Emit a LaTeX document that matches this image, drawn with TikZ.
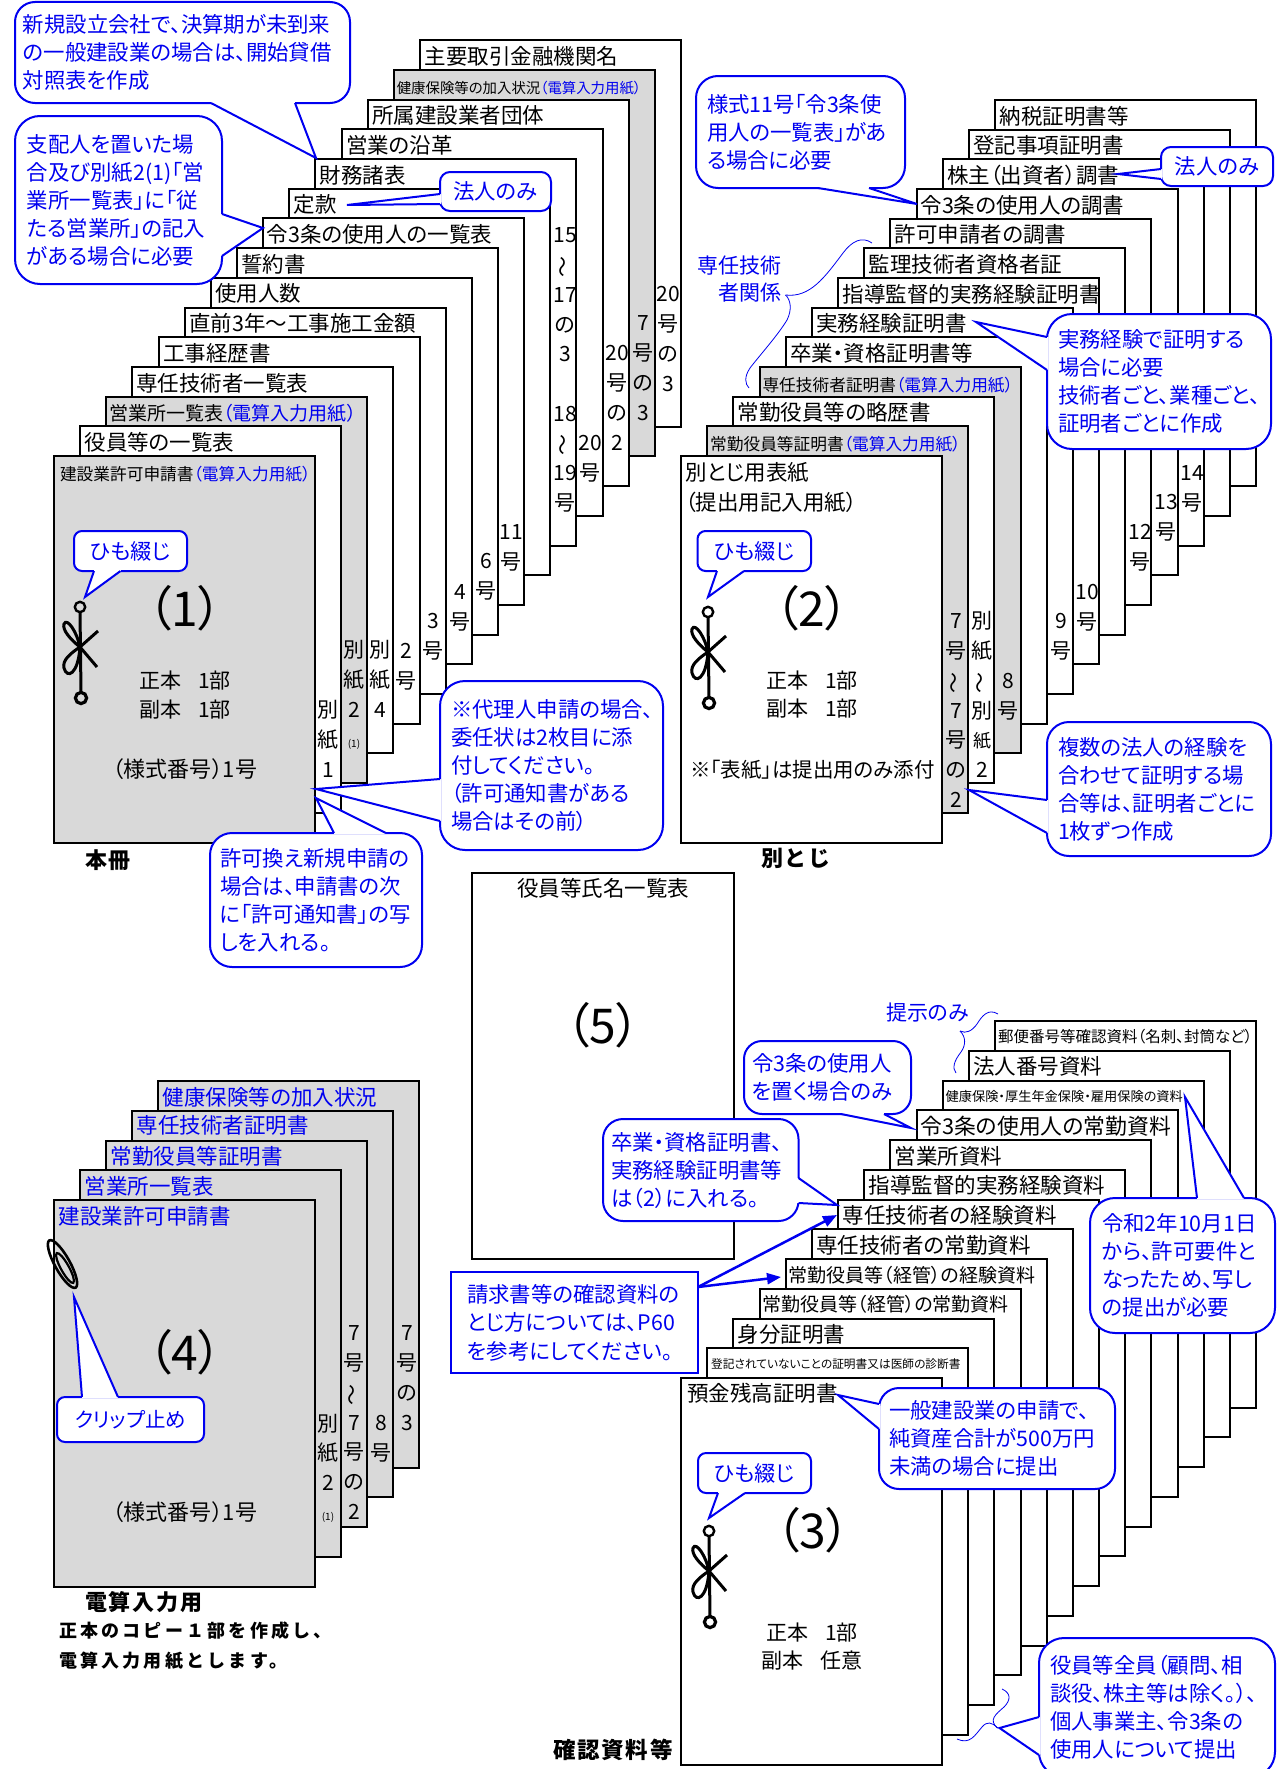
\documentclass[tikz,border=0pt]{standalone}
\usepackage{fontspec}
\setmainfont[RawFeature=+palt]{Noto Sans CJK JP}
\newfontfamily\capfont[LetterSpace=18]{Noto Sans CJK JP}
\newfontfamily\capfontb[LetterSpace=8]{Noto Sans CJK JP}
\usetikzlibrary{arrows.meta}
\definecolor{pagegray}{HTML}{D9D9D9}
\definecolor{cb}{HTML}{0000F0}
\newcommand\st{\rule[-.12em]{0pt}{1em}}
\newcommand\fs[1]{\fontsize{#1}{#1}\selectfont\st}
\newcommand\rw{\rotatebox[origin=c]{90}{～}}
\newcommand\dn[1]{{\color{cb}#1}}
\tikzset{
  pagebox/.style={draw=black,line width=2pt,minimum width=261pt,minimum height=386.5pt,inner sep=0pt,outer sep=0pt,anchor=north west},
  lab/.style={inner sep=0pt,outer sep=0pt,text=black},
  bl/.style={inner sep=0pt,outer sep=0pt,text=cb},
  sidelab/.style={inner sep=0pt,outer sep=0pt,align=center,anchor=north,font=\fontsize{21}{29.7}\selectfont},
  callbox/.style={draw=cb,fill=white,line width=2pt,outer sep=0pt,inner ysep=0pt,align=left,text=cb,font=\fontsize{21.4}{28}\selectfont},
  tailline/.style={draw=cb,line width=2pt,line join=miter},
  brace/.style={draw=cb,line width=.8pt},
  knotline/.style={draw=black,line width=3pt},
  arrowline/.style={draw=cb,line width=2.5pt,-{Triangle[length=14pt,width=11pt]}},
}
% page of a stack: index, fill, size, x offset, y offset, text
\newcommand\pg[6]{%
  \pgfmathsetmacro\px{\ox+#1*\dxx}\pgfmathsetmacro\py{\oy-#1*\dyy}%
  \node[pagebox,fill=#2] (\sn p#1) at (\px,\py) {};%
  \node[lab,anchor=west] (\sn t#1) at (\px+#4,\py+#5) {\fs{#3}#6};%
}
\newcommand\side[4]{\node[sidelab] (#1) at (#2,#3-10.5) {\st #4};}
% callout: radius, name, x1,y1,x2,y2, inset, text
\newcommand\callout[8]{%
  \pgfmathsetmacro\cw{#5-#3}\pgfmathsetmacro\ch{#6-#4}%
  \pgfmathsetmacro\tw{#5-#3-2*#7}%
  \node[callbox,rounded corners=#1pt,minimum width=\cw pt,minimum height=\ch pt,inner xsep=#7pt,text width=\tw pt]
    (#2) at ({(#3+#5)/2},{(#4+#6)/2}) {\st #8\st};%
}
% tail: first base, tip, second base
\newcommand\tail[4]{%
  \coordinate (#1) at (#3);%
  \draw[white,line width=2.6pt] (#2)--(#4);%
  \fill[white] (#2)--(#1)--(#4)--cycle;%
  \draw[tailline] (#2)--(#1)--(#4);%
}
\newcommand\knot[2]{%
  \begin{scope}[shift={(#1,#2)}]
    \draw[knotline,line width=2.4pt] (0,-40) circle (5.2);
    \draw[knotline,line width=3.2pt] (1,51) circle (5.6);
    \draw[knotline] (0,-35)--(1,45);
    \draw[knotline] (0,0)--(18,-16);
    \draw[knotline] (0,0)--(17,20);
    \draw[knotline] (0,0) .. controls (-9,-7) and (-18,-17) .. (-16,-23) .. controls (-13,-30) and (-3,-15) .. (0,0);
    \draw[knotline] (0,0) .. controls (-9,6) and (-18,13) .. (-16,21) .. controls (-13,32) and (-2,28) .. (0,0);
  \end{scope}%
}
\begin{document}
\begin{tikzpicture}[x=1pt,y=-1pt]
\useasboundingbox (0,0) rectangle (1279,1769);
\fill[white] (0,0) rectangle (1279,1769);

%%% stack 1
\def\sn{a}\def\ox{54}\def\oy{456}\def\dxx{26.14}\def\dyy{29.7}
\pg{14}{white}{21.5}{5}{16}{主要取引金融機関名}
\pg{13}{pagegray}{14.4}{3}{18}{健康保険等の加入状況\dn{（電算入力用紙）}}
\pg{12}{white}{21.5}{4.5}{16}{所属建設業者団体}
\pg{11}{white}{21.5}{4.5}{16}{営業の沿革}
\pg{10}{white}{21.5}{4.5}{16}{財務諸表}
\pg{9}{white}{21.5}{4.5}{16}{定款}
\pg{8}{white}{21.5}{3.5}{16}{令3条の使用人の一覧表}
\pg{7}{white}{21.5}{4.5}{16}{誓約書}
\pg{6}{white}{21.5}{4.5}{16}{使用人数}
\pg{5}{white}{21.5}{4.5}{16}{直前3年～工事施工金額}
\pg{4}{white}{21.5}{4.5}{16}{工事経歴書}
\pg{3}{white}{21.5}{4}{16}{専任技術者一覧表}
\pg{2}{pagegray}{19}{3}{17}{営業所一覧表\dn{（電算入力用紙）}}
\pg{1}{white}{21.5}{4.5}{16}{役員等の一覧表}
\pg{0}{pagegray}{16.7}{6}{18}{建設業許可申請書\dn{（電算入力用紙）}}
\side{as1}{328}{710}{別\\紙\\1}
\side{as2}{354}{650}{別\\紙\\2\\{\fontsize{10}{10}\selectfont(1)}}
\side{as3}{380}{650}{別\\紙\\4}
\side{as4}{406}{651}{2\\号}
\side{as5}{433}{621}{3\\号}
\side{as6}{460}{592}{4\\号}
\side{as7}{486}{561}{6\\号}
\side{as8}{511}{532}{11\\号}
\side{as9}{565}{235}{15\\\rw\\17\\の\\3\\\st\\18\\\rw\\19\\号}
\side{as10}{590}{443}{20\\号}
\side{as11}{617}{353}{20\\号\\の\\2}
\side{as12}{643}{323}{7\\号\\の\\3}
\side{as13}{668}{294}{20\\号\\の\\3}
\node[lab] (anum) at (185,608) {\fs{48}（1）};
\node[lab] (acopy1) at (185,681) {\fs{21}正本\hspace{17pt}1部};
\node[lab] (acopy2) at (185,710) {\fs{21}副本\hspace{17pt}1部};
\node[lab] (aform) at (185,769) {\fs{22}（様式番号）1号};
\knot{80}{647}
\node[lab,anchor=west] (acap) at (85,860) {\fontsize{22}{22}\capfontb\bfseries\st 本冊};

%%% stack 2
\def\sn{b}\def\ox{681}\def\oy{456}\def\dxx{26.17}\def\dyy{29.67}
\pg{12}{white}{21.5}{4.5}{16}{納税証明書等}
\pg{11}{white}{21.5}{4.5}{16}{登記事項証明書}
\pg{10}{white}{21.5}{4.5}{16}{株主（出資者）調書}
\pg{9}{white}{21.5}{4}{16}{令3条の使用人の調書}
\pg{8}{white}{21.5}{4.5}{16}{許可申請者の調書}
\pg{7}{white}{21.5}{4.5}{16}{監理技術者資格者証}
\pg{6}{white}{21.5}{4.5}{16}{指導監督的実務経験証明書}
\pg{5}{white}{21.5}{4.5}{16}{実務経験証明書}
\pg{4}{white}{21.5}{4.5}{16}{卒業・資格証明書等}
\pg{3}{pagegray}{16.7}{3}{18}{専任技術者証明書\dn{（電算入力用紙）}}
\pg{2}{white}{21.5}{4.5}{16}{常勤役員等の略歴書}
\pg{1}{pagegray}{16.7}{3}{18}{常勤役員等証明書\dn{（電算入力用紙）}}
\pg{0}{white}{21.5}{4.5}{16}{別とじ用表紙}
\node[lab,anchor=west] (bsub) at (685,502) {\fs{21.5}（提出用記入用紙）};
\side{bs1}{956}{621}{7\\号\\\rw\\7\\号\\の\\2}
\side{bs2}{982}{621}{別\\紙\\\rw\\別\\{\fontsize{18}{18}\selectfont 紙}\\2}
\side{bs3}{1008}{681}{8\\号}
\side{bs4}{1061}{621}{9\\号}
\side{bs5}{1087}{592}{10\\号}
\side{bs6}{1140}{532}{12\\号}
\side{bs7}{1166}{502}{13\\号}
\side{bs8}{1192}{473}{14\\号}
\node[lab] (bnum) at (812,608) {\fs{48}（2）};
\node[lab] (bcopy1) at (812,681) {\fs{21}正本\hspace{17pt}1部};
\node[lab] (bcopy2) at (812,709) {\fs{21}副本\hspace{17pt}1部};
\node[lab,anchor=west] (bnote) at (690,770) {\fs{20.5}※「表紙」は提出用のみ添付};
\knot{708}{652}
\node[lab,anchor=west] (bcap) at (761,858) {\fontsize{22}{22}\capfontb\bfseries\st 別とじ};
\node[bl,anchor=east,align=right,font=\fontsize{21}{27}\selectfont] (btag) at (781,279) {\st 専任技術\\者関係\st};
\draw[brace] (872,243) .. controls (862,236) and (852,241) .. (843,253) .. controls (825,277) and (810,298) .. (785.5,295);
\draw[brace] (785.5,295) .. controls (791,300) and (792,310) .. (787,320) .. controls (778,335) and (760,355) .. (750,368) .. controls (744,377) and (745,384) .. (749,388);

%%% stack 5
\node[pagebox,minimum width=262pt,minimum height=386pt] (epage) at (472,873) {};
\node[lab] (etitle) at (603,888) {\fs{21.5}役員等氏名一覧表};
\node[lab] (enum) at (603,1025) {\fs{48}（5）};

%%% stack 3
\def\sn{c}\def\ox{681}\def\oy{1378}\def\dxx{26.17}\def\dyy{29.75}
\pg{12}{white}{15.5}{3}{16}{郵便番号等確認資料（名刺、封筒など）}
\pg{11}{white}{21.5}{4.5}{16}{法人番号資料}
\pg{10}{white}{13.2}{3}{16}{健康保険・厚生年金保険・雇用保険の資料}
\pg{9}{white}{21.8}{4}{16}{令3条の使用人の常勤資料}
\pg{8}{white}{21.5}{4.5}{16}{営業所資料}
\pg{7}{white}{21.5}{4.5}{16}{指導監督的実務経験資料}
\pg{6}{white}{21.5}{4.5}{16}{専任技術者の経験資料}
\pg{5}{white}{21.5}{4.5}{16}{専任技術者の常勤資料}
\pg{4}{white}{19}{3}{16}{常勤役員等（経管）の経験資料}
\pg{3}{white}{19}{3}{16}{常勤役員等（経管）の常勤資料}
\pg{2}{white}{21.5}{4.5}{16}{身分証明書}
\pg{1}{white}{11.7}{4}{16}{登記されていないことの証明書又は医師の診断書}
\pg{0}{white}{21.5}{6}{15}{預金残高証明書}
\node[lab] (cnum) at (813,1530) {\fs{48}（3）};
\node[lab] (ccopy1) at (812,1632) {\fs{21}正本\hspace{17pt}1部};
\node[lab] (ccopy2) at (812,1660) {\fs{21}副本\hspace{17pt}任意};
\knot{709}{1571}
\node[lab,anchor=west] (ccap) at (553,1750) {\fontsize{22.5}{22.5}\capfontb\bfseries\st 確認資料等};
\node[bl,anchor=west] (ctag) at (886,1013) {\fs{21}提示のみ};
\draw[brace] (998,1014) .. controls (988,1008) and (982,1016) .. (977,1024) .. controls (972,1031) and (966,1034) .. (960,1031);
\draw[brace] (960,1031) .. controls (966,1037) and (966,1045) .. (961,1052) .. controls (954,1061) and (952,1068) .. (956,1073);
\draw[brace] (1002,1689) .. controls (1011,1693) and (1011,1700) .. (1004,1707) .. controls (996,1714) and (988,1720) .. (997.5,1728);
\draw[brace] (997.5,1728) .. controls (992,1722) and (987,1721) .. (982,1727) .. controls (975,1735) and (970,1745) .. (957,1739);

%%% stack 4
\def\sn{d}\def\ox{54}\def\oy{1200}\def\dxx{26.1}\def\dyy{29.75}
\pg{4}{pagegray}{21.5}{4.5}{16}{\color{cb}健康保険等の加入状況}
\pg{3}{pagegray}{21.5}{4.5}{15}{\color{cb}専任技術者証明書}
\pg{2}{pagegray}{21.5}{4.5}{16}{\color{cb}常勤役員等証明書}
\pg{1}{pagegray}{21.5}{4.5}{16}{\color{cb}営業所一覧表}
\pg{0}{pagegray}{21.5}{4.5}{16}{\color{cb}建設業許可申請書}
\side{ds1}{328}{1423}{別\\紙\\2\\{\fontsize{10}{10}\selectfont(1)}}
\side{ds2}{354}{1333}{7\\号\\\rw\\7\\号\\の\\2}
\side{ds3}{381}{1423}{8\\号}
\side{ds4}{407}{1333}{7\\号\\の\\3}
\node[lab] (dnum) at (185,1352) {\fs{48}（4）};
\node[lab] (dform) at (185,1512) {\fs{22}（様式番号）1号};
\draw[draw=black,line width=2.6pt,rotate around={-61:(62.5,1264)}] (62.5,1264) ellipse (27 and 7.5);
\draw[draw=black,line width=2.2pt,rotate around={-61:(65,1268)}] (65,1268) ellipse (17 and 4);
\node[lab,anchor=west] (dcap) at (85,1602) {\fontsize{22}{22}\capfontb\bfseries\st 電算入力用};
\node[lab,anchor=west] (dcap2) at (59,1631) {\fontsize{18}{18}\capfont\bfseries\st 正本のコピー１部を作成し、};
\node[lab,anchor=west] (dcap3) at (59,1661) {\fontsize{18}{18}\capfont\bfseries\st 電算入力用紙とします。};

%%% callouts
\callout{20}{kA}{15}{2}{350}{103}{8}{新規設立会社で、決算期が未到来\\の一般建設業の場合は、開始貸借\\対照表を作成}
\tail{tA}{211,103}{316,158}{295,103}
\callout{25}{kB}{15}{116}{222}{284}{12}{支配人を置いた場\\合及び別紙2(1)「営\\業所一覧表」に「従\\たる営業所」の記入\\がある場合に必要}
\tail{tB}{222,214}{263,228}{222,256}
\callout{10}{kC}{440}{172}{551}{211}{13}{\hfill 法人のみ\hfill\null}
\tail{tC}{440,194}{347,205}{440,204}
\callout{8}{kD}{74}{531}{187}{571}{10}{\hfill ひも綴じ\hfill\null}
\tail{tD}{94,571}{85,597}{120.5,571}
\callout{25}{kE}{440}{681}{663}{850}{11}{※代理人申請の場合、\\委任状は2枚目に添\\付してください。\\（許可通知書がある\\場合はその前）}
\tail{tE}{440,779}{316,789}{440,821}
\callout{22}{kF}{210}{833}{422}{967}{10}{許可換え新規申請の\\場合は、申請書の次\\に「許可通知書」の写\\しを入れる。}
\tail{tF}{334,833}{316,798}{386,833}
\callout{22}{kG}{696}{76}{905}{188}{11}{様式11号「令3条使\\用人の一覧表」があ\\る場合に必要}
\tail{tG}{818,188}{917,204}{869,188}
\callout{10}{kH}{1161}{147}{1273}{186}{13}{\hfill 法人のみ\hfill\null}
\tail{tH}{1161,169}{1118,174}{1161,179}
\callout{25}{kI}{1047}{314}{1271}{449}{11}{実務経験で証明する\\場合に必要\\技術者ごと、業種ごと、\\証明者ごとに作成}
\tail{tI}{1047,337}{976,322}{1047,370}
\callout{8}{kJ}{697.5}{531}{811}{571}{10}{\hfill ひも綴じ\hfill\null}
\tail{tJ}{717,571}{708,597}{744,571}
\callout{22}{kK}{1047}{722}{1271}{856}{11}{複数の法人の経験を\\合わせて証明する場\\合等は、証明者ごとに\\1枚ずつ作成}
\tail{tK}{1047,800}{969,790}{1047,833}
\callout{18}{kL}{744}{1041}{911}{1114}{8}{令3条の使用人\\を置く場合のみ}
\tail{tL}{841,1114}{911,1128}{884,1114}
\callout{20}{kM}{603}{1119}{798.5}{1221}{8}{卒業・資格証明書、\\実務経験証明書等\\は（2）に入れる。}
\tail{tM}{798.5,1178}{837,1205}{798.5,1203}
\callout{25}{kN}{1090}{1198}{1275}{1333}{12}{令和2年10月1日\\から、許可要件と\\なったため、写し\\の提出が必要}
\tail{tN}{1197,1198}{1185,1097}{1244,1198}
\callout{20}{kO}{879}{1388}{1115}{1489}{10}{一般建設業の申請で、\\純資産合計が500万円\\未満の場合に提出}
\tail{tO}{879,1404}{838,1395}{879,1429}
\callout{8}{kP}{698}{1453}{811}{1493}{10}{\hfill ひも綴じ\hfill\null}
\tail{tP}{718,1493}{709,1518}{745,1493}
\callout{25}{kQ}{1039}{1638}{1275}{1777}{11}{役員等全員（顧問、相\\談役、株主等は除く。）、\\個人事業主、令3条の\\使用人について提出}
\tail{tQ}{1039,1717}{999.5,1728}{1039,1755}
\callout{8}{kR}{57}{1397}{204}{1442}{10}{\hfill\fontsize{20.5}{20.5}\selectfont クリップ止め\hfill\null}
\tail{tR}{82,1397}{74,1297}{118,1397}

%%% square note with arrows
\node[draw=cb,fill=white,line width=2.6pt,outer sep=0pt,inner ysep=0pt,inner xsep=16pt,minimum width=247pt,minimum height=101pt,text width=215pt,align=left,text=cb,font=\fontsize{21.4}{28.5}\selectfont] (req) at (574.5,1322.5) {\st 請求書等の確認資料の\\とじ方については、P60\\を参考にしてください。\st};
\coordinate (reqout) at (698,1287);
\coordinate (hitA) at (837,1215);
\coordinate (hitB) at (781,1277);
\draw[arrowline] (reqout) -- (hitA);
\draw[arrowline] (reqout) -- (hitB);
\end{tikzpicture}
\end{document}
